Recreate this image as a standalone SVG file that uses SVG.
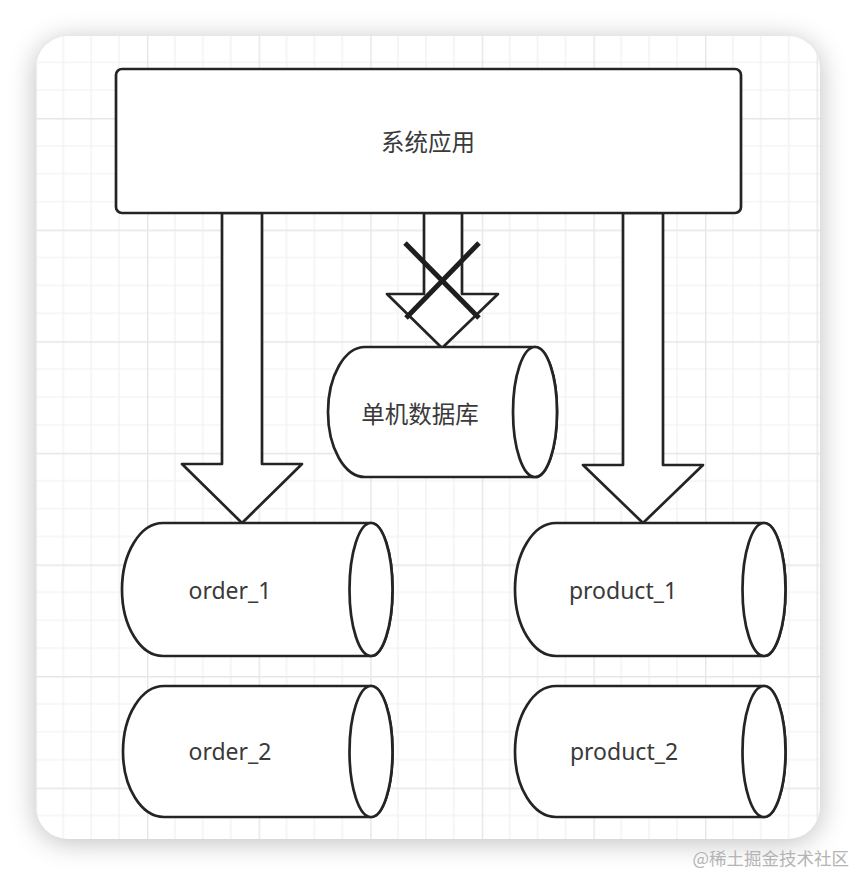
<svg xmlns="http://www.w3.org/2000/svg" width="856" height="876" viewBox="0 0 856 876">
  <defs>
    <style>
      .shape { fill: #ffffff; stroke: #242424; stroke-width: 2.7; stroke-linejoin: round; }
      .label { font-family: "Noto Sans", "Noto Sans CJK SC", sans-serif; font-size: 23px; fill: #3a3a3a; text-anchor: middle; }
      .cjk { font-family: "Noto Sans CJK SC", "Noto Sans", sans-serif; font-size: 23.5px; fill: #3a3a3a; text-anchor: middle; }
      .minor { stroke: #f0eff1; stroke-width: 1.2; }
      .major { stroke: #e6e5e8; stroke-width: 1.4; }
      .cross { stroke: #1e1e1e; stroke-width: 5; stroke-linecap: butt; }
    </style>
    <filter id="blur" x="-20%" y="-20%" width="140%" height="140%">
      <feGaussianBlur stdDeviation="14"/>
    </filter>
    <pattern id="grid" patternUnits="userSpaceOnUse" x="35.4" y="6.4" width="111.6" height="111.6">
      <line class="minor" x1="27.9" y1="0" x2="27.9" y2="111.6"/>
      <line class="minor" x1="55.8" y1="0" x2="55.8" y2="111.6"/>
      <line class="minor" x1="83.7" y1="0" x2="83.7" y2="111.6"/>
      <line class="minor" x1="0" y1="27.9" x2="111.6" y2="27.9"/>
      <line class="minor" x1="0" y1="55.8" x2="111.6" y2="55.8"/>
      <line class="minor" x1="0" y1="83.7" x2="111.6" y2="83.7"/>
      <line class="major" x1="0.7" y1="0" x2="0.7" y2="111.6"/>
      <line class="major" x1="0" y1="0.7" x2="111.6" y2="0.7"/>
    </pattern>
  </defs>

  <!-- background and card -->
  <rect x="0" y="0" width="856" height="876" fill="#ffffff"/>
  <rect x="36" y="40" width="784" height="802" rx="32" fill="#000000" opacity="0.26" filter="url(#blur)"/>
  <rect x="36" y="36" width="784" height="803" rx="32" fill="#ffffff"/>
  <rect x="36" y="36" width="784" height="803" rx="32" fill="url(#grid)"/>

  <!-- connectors -->
  <g id="connectors">
    <path id="arrow-order" class="shape" d="M222 213 L262 213 L262 464 L302 464 L242 523 L182 464 L222 464 Z"/>
    <path id="arrow-product" class="shape" d="M623 213 L663 213 L663 465 L703 465 L643 523 L583 465 L623 465 Z"/>
    <path id="arrow-single" class="shape" d="M424 213 L462 213 L462 294 L498 294 L442 348 L387 294 L424 294 Z"/>
    <line class="cross" x1="405" y1="243" x2="479" y2="318"/>
    <line class="cross" x1="479" y1="243" x2="406" y2="318"/>
  </g>

  <!-- nodes -->
  <g id="system-app">
    <rect class="shape" x="116" y="69" width="625" height="144" rx="6"/>
    <text class="cjk" x="428" y="151">系统应用</text>
  </g>

  <g id="single-db">
    <path class="shape" d="M365 347 L535 347 A22 65 0 0 1 535 477 L365 477 A37 65 0 0 1 365 347 Z"/>
    <ellipse class="shape" cx="535" cy="412" rx="22" ry="65"/>
    <text class="cjk" x="420" y="423">单机数据库</text>
  </g>

  <g id="order-1">
    <path class="shape" d="M163 523 L371 523 A21.5 66.5 0 0 1 371 656 L163 656 A41 66.5 0 0 1 163 523 Z"/>
    <ellipse class="shape" cx="371" cy="589.5" rx="21.5" ry="66.5"/>
    <text class="label" x="230" y="599">order_1</text>
  </g>

  <g id="order-2">
    <path class="shape" d="M164 686 L371 686 A21.5 65.5 0 0 1 371 817 L164 817 A41 65.5 0 0 1 164 686 Z"/>
    <ellipse class="shape" cx="371" cy="751.5" rx="21.5" ry="65.5"/>
    <text class="label" x="230" y="760">order_2</text>
  </g>

  <g id="product-1">
    <path class="shape" d="M556 523 L764 523 A21.5 66.5 0 0 1 764 656 L556 656 A41 66.5 0 0 1 556 523 Z"/>
    <ellipse class="shape" cx="764" cy="589.5" rx="21.5" ry="66.5"/>
    <text class="label" x="623" y="599">product_1</text>
  </g>

  <g id="product-2">
    <path class="shape" d="M556 686 L764 686 A21.5 65.5 0 0 1 764 817 L556 817 A41 65.5 0 0 1 556 686 Z"/>
    <ellipse class="shape" cx="764" cy="751.5" rx="21.5" ry="65.5"/>
    <text class="label" x="624" y="760">product_2</text>
  </g>

  <text x="849" y="865" font-family="Noto Sans CJK SC, Noto Sans, sans-serif" font-size="17.5" fill="#b4b4b4" text-anchor="end">@稀土掘金技术社区</text>
</svg>
